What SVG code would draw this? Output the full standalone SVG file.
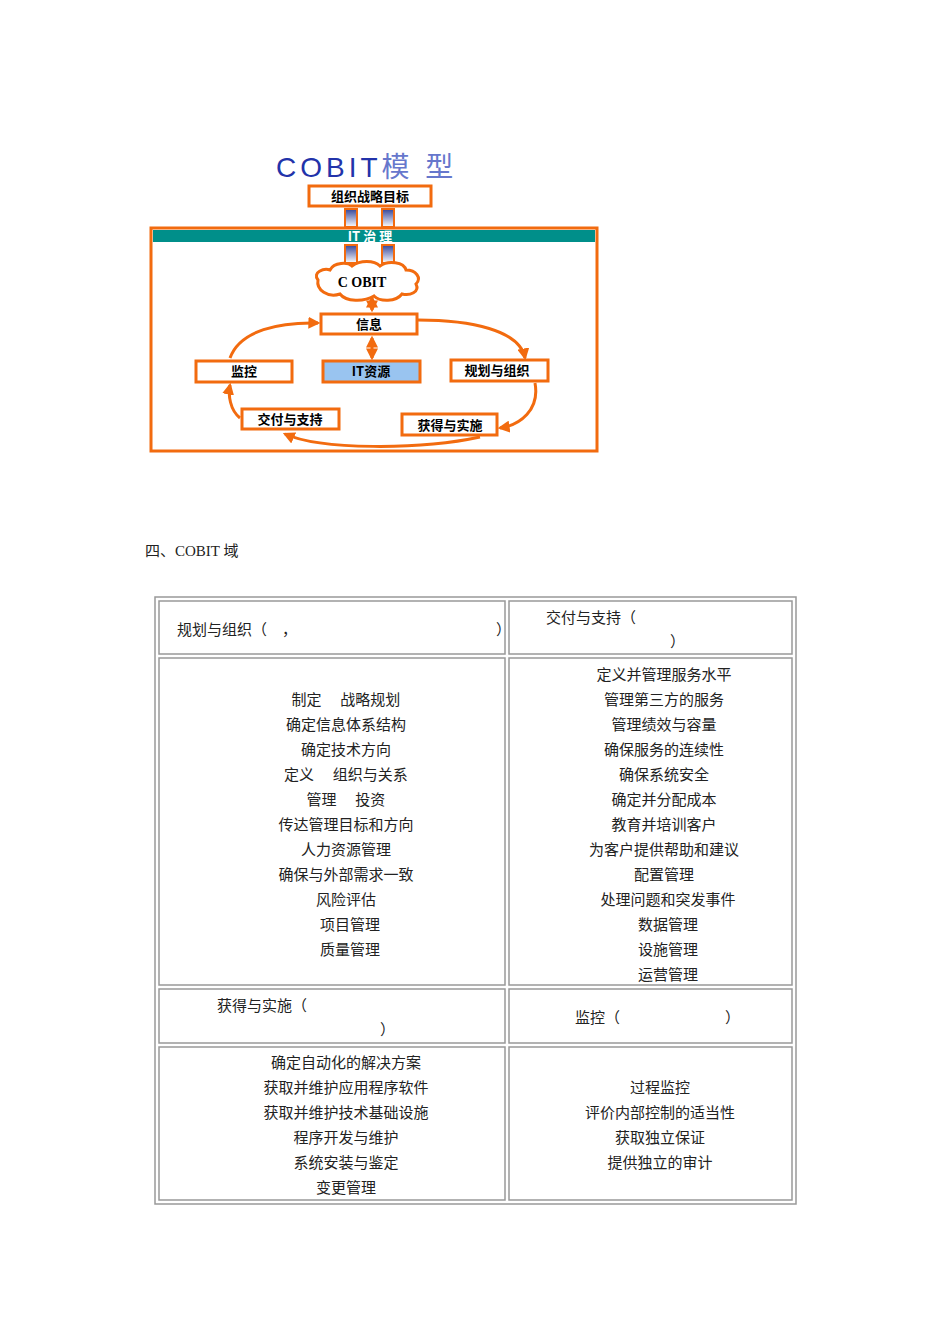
<svg xmlns="http://www.w3.org/2000/svg" width="950" height="1344" viewBox="0 0 950 1344">
<style>
.b{fill:#fff;stroke:#f26b0f;stroke-width:3}
.bt{font-family:"Noto Sans CJK SC",sans-serif;font-weight:bold;font-size:13px;text-anchor:middle;fill:#000}
.c{fill:none;stroke:#f26b0f;stroke-width:3}
.t{font-family:"Liberation Serif","Noto Sans CJK SC",serif;font-size:15px;fill:#222;text-anchor:middle}
.tl{font-family:"Liberation Serif","Noto Sans CJK SC",serif;font-size:15px;fill:#222}
.cell{fill:none;stroke:#999;stroke-width:1.5}
</style>
<defs>
<marker id="a" viewBox="0 0 10 10" refX="8" refY="5" markerWidth="4" markerHeight="4" orient="auto-start-reverse"><path d="M0,0L10,5L0,10z" fill="#f26b0f"/></marker>
<linearGradient id="g" x1="0" y1="0" x2="0" y2="1"><stop offset="0" stop-color="#334499"/><stop offset="1" stop-color="#fff"/></linearGradient>
</defs>
<text x="276" y="177" font-family="Liberation Sans,Noto Sans CJK SC,sans-serif" font-size="28" fill="#2233aa" letter-spacing="4">COBIT<tspan fill="#6677cc">模 型</tspan></text>
<g id="n-goal"><rect class="b" x="309" y="186" width="122" height="20"/><text class="bt" x="370" y="201">组织战略目标</text></g>
<g id="n-frame"><rect class="b" x="151" y="228" width="446" height="223" fill="none"/><rect x="153" y="230" width="442" height="12" fill="#008f8a"/><text class="bt" x="370" y="241" fill="#fff" style="fill:#fff">IT 治 理</text></g>
<g id="connectors">
<rect x="345" y="209" width="12" height="18" fill="url(#g)" stroke="#f26b0f" stroke-width="2"/>
<rect x="382" y="209" width="12" height="18" fill="url(#g)" stroke="#f26b0f" stroke-width="2"/>
<rect x="345" y="245" width="12" height="18" fill="url(#g)" stroke="#f26b0f" stroke-width="2"/>
<rect x="382" y="245" width="12" height="18" fill="url(#g)" stroke="#f26b0f" stroke-width="2"/>
<line class="c" x1="372" y1="298" x2="372" y2="310" marker-start="url(#a)" marker-end="url(#a)"/>
<line class="c" x1="372" y1="338" x2="372" y2="358" marker-start="url(#a)" marker-end="url(#a)"/>
<path class="c" d="M418,320C470,320 520,330 525,358" marker-end="url(#a)"/>
<path class="c" d="M535,383C540,410 520,425 500,428" marker-end="url(#a)"/>
<path class="c" d="M480,437C420,450 320,450 285,434" marker-end="url(#a)"/>
<path class="c" d="M240,418C230,410 228,395 230,385" marker-end="url(#a)"/>
<path class="c" d="M230,358C240,330 280,322 318,323" marker-end="url(#a)"/>
</g>
<g id="n-cobit"><path d="M318,280c-6,-8 6,-12 12,-10c4,-8 18,-8 22,-4c8,-6 22,-6 28,0c8,-6 24,-4 26,4c10,0 16,8 10,14c4,8 -6,12 -14,10c-6,8 -22,8 -28,2c-10,6 -28,6 -34,-2c-12,4 -24,-4 -22,-14z" fill="#fff" stroke="#f26b0f" stroke-width="3"/><text x="362" y="287" font-family="Liberation Serif,serif" font-weight="bold" font-size="14" text-anchor="middle">C OBIT</text></g>
<g id="n-info"><rect class="b" x="321" y="314" width="96" height="20"/><text class="bt" x="369" y="329">信息</text></g>
<g id="n-monitor"><rect class="b" x="196" y="361" width="96" height="21"/><text class="bt" x="244" y="376">监控</text></g>
<g id="n-itres"><rect class="b" x="323" y="361" width="97" height="21" style="fill:#99c4f0"/><text class="bt" x="371" y="376">IT资源</text></g>
<g id="n-plan"><rect class="b" x="451" y="360" width="97" height="21"/><text class="bt" x="497" y="375">规划与组织</text></g>
<g id="n-deliver"><rect class="b" x="242" y="409" width="97" height="20"/><text class="bt" x="290" y="424">交付与支持</text></g>
<g id="n-acquire"><rect class="b" x="402" y="414" width="95" height="21"/><text class="bt" x="450" y="430">获得与实施</text></g>
<text class="tl" x="145" y="556">四、COBIT 域</text>
<g id="table">
<rect class="cell" x="155" y="597" width="641" height="607"/>
<rect class="cell" x="159" y="601" width="346" height="53"/>
<rect class="cell" x="509" y="601" width="283" height="53"/>
<rect class="cell" x="159" y="658" width="346" height="327"/>
<rect class="cell" x="509" y="658" width="283" height="327"/>
<rect class="cell" x="159" y="989" width="346" height="54"/>
<rect class="cell" x="509" y="989" width="283" height="54"/>
<rect class="cell" x="159" y="1047" width="346" height="153"/>
<rect class="cell" x="509" y="1047" width="283" height="153"/>
<text class="tl" x="177" y="635">规划与组织（　，<tspan x="496">）</tspan></text>
<text class="tl" x="546" y="623">交付与支持（</text><text class="tl" x="670" y="647">）</text>
<g class="t"><text class="t" x="346" y="705">制定　 战略规划</text><text class="t" x="346" y="730">确定信息体系结构</text><text class="t" x="346" y="755">确定技术方向</text><text class="t" x="346" y="780">定义　 组织与关系</text><text class="t" x="346" y="805">管理　 投资</text><text class="t" x="346" y="830">传达管理目标和方向</text><text class="t" x="346" y="855">人力资源管理</text><text class="t" x="346" y="880">确保与外部需求一致</text><text class="t" x="346" y="905">风险评估</text><text class="t" x="350" y="930">项目管理</text><text class="t" x="350" y="955">质量管理</text></g>
<g><text class="t" x="664" y="680">定义并管理服务水平</text><text class="t" x="664" y="705">管理第三方的服务</text><text class="t" x="664" y="730">管理绩效与容量</text><text class="t" x="664" y="755">确保服务的连续性</text><text class="t" x="664" y="780">确保系统安全</text><text class="t" x="664" y="805">确定并分配成本</text><text class="t" x="664" y="830">教育并培训客户</text><text class="t" x="664" y="855">为客户提供帮助和建议</text><text class="t" x="664" y="880">配置管理</text><text class="t" x="668" y="905">处理问题和突发事件</text><text class="t" x="668" y="930">数据管理</text><text class="t" x="668" y="955">设施管理</text><text class="t" x="668" y="980">运营管理</text></g>
<text class="tl" x="217" y="1011">获得与实施（</text><text class="tl" x="380" y="1035">）</text>
<text class="tl" x="575" y="1023">监控（<tspan x="725">）</tspan></text>
<g><text class="t" x="346" y="1068">确定自动化的解决方案</text><text class="t" x="346" y="1093">获取并维护应用程序软件</text><text class="t" x="346" y="1118">获取并维护技术基础设施</text><text class="t" x="346" y="1143">程序开发与维护</text><text class="t" x="346" y="1168">系统安装与鉴定</text><text class="t" x="346" y="1193">变更管理</text></g>
<g><text class="t" x="660" y="1093">过程监控</text><text class="t" x="660" y="1118">评价内部控制的适当性</text><text class="t" x="660" y="1143">获取独立保证</text><text class="t" x="660" y="1168">提供独立的审计</text></g>
</g>
</svg>
